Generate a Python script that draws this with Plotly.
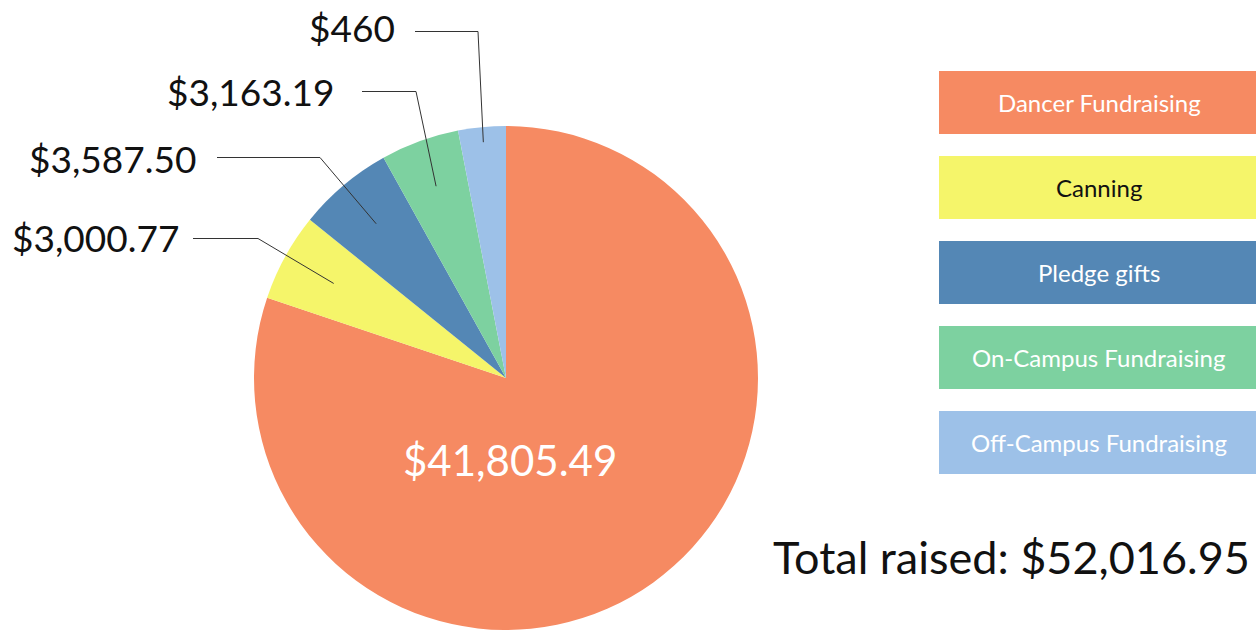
import math
import plotly.graph_objects as go

# ---------------- data ----------------
categories = ["Dancer Fundraising", "Canning", "Pledge gifts",
              "On-Campus Fundraising", "Off-Campus Fundraising"]
# amounts printed on the chart
amounts = [41805.49, 3000.77, 3587.50, 3163.19, 460.00]
# slice sizes as drawn in the picture
slice_values = [41700, 2935, 3180, 2615, 1587]
colors = ["#F68A62", "#F5F56A", "#5487B5", "#7DD1A0", "#9DC1E8"]
legend_text_colors = ["#FFFFFF", "#111111", "#FFFFFF", "#FFFFFF", "#FFFFFF"]

W, H = 1256, 631
FONT = "Lato"

# ---------------- layout positions (pixels) ----------------
CX, CY, R = 506, 378, 252
# outside labels (for slices 1..4)
label_right_x = [181, 198, 336, 397]
label_y = [238, 158, 92, 28]
line_start_x = [193, 217, 362, 415]
line_y = [238.5, 157.5, 91.5, 31.5]
elbow_x = [258, 320, 416, 478]
anchor_frac = [0.78, 0.80, 0.81, 0.94]

legend_left, legend_right = 939, 1262
legend_top0, legend_h, legend_step = 71, 63, 85


def px(x):
    return x / W


def py(y):
    return 1 - y / H


def money(v):
    s = f"${v:,.2f}"
    if s.endswith(".00"):
        s = s[:-3]
    return s


fig = go.Figure()
fig.add_trace(go.Pie(
    labels=categories,
    values=slice_values,
    marker=dict(colors=colors, line=dict(width=0)),
    sort=False,
    direction="clockwise",
    rotation=0,
    textinfo="none",
    hoverinfo="label",
    showlegend=False,
    domain=dict(x=[px(CX - R), px(CX + R)], y=[py(CY + R), py(CY - R)]),
))

shapes = []
annotations = []

total_slices = sum(slice_values)
cum = 0.0
mids = []
for v in slice_values:
    mids.append((cum + v / 2) / total_slices * 360.0)
    cum += v

# leader lines and outside labels
for k in range(1, len(categories)):
    i = k - 1
    th = math.radians(mids[k])
    ax = CX + anchor_frac[i] * R * math.sin(th)
    ay = CY - anchor_frac[i] * R * math.cos(th)
    path = (f"M {px(line_start_x[i])} {py(line_y[i])} "
            f"L {px(elbow_x[i])} {py(line_y[i])} "
            f"L {px(ax)} {py(ay)}")
    shapes.append(dict(type="path", xref="paper", yref="paper", path=path,
                       line=dict(color="#333333", width=1)))
    annotations.append(dict(
        x=px(label_right_x[i]), y=py(label_y[i]), xref="paper", yref="paper",
        text=money(amounts[k]), showarrow=False, xanchor="right", yanchor="middle",
        font=dict(family=FONT, size=37, color="#111111")))

# inside label for the big slice
annotations.append(dict(
    x=px(510), y=py(460), xref="paper", yref="paper",
    text=money(amounts[0]), showarrow=False, xanchor="center", yanchor="middle",
    font=dict(family=FONT, size=42, color="#FFFFFF")))

# legend boxes
for i, cat in enumerate(categories):
    top = legend_top0 + i * legend_step
    shapes.append(dict(type="rect", xref="paper", yref="paper",
                       x0=px(legend_left), x1=px(legend_right),
                       y0=py(top + legend_h), y1=py(top),
                       fillcolor=colors[i], line=dict(width=0), layer="above"))
    annotations.append(dict(
        x=px(1099), y=py(top + legend_h / 2), xref="paper", yref="paper",
        text=cat, showarrow=False, xanchor="center", yanchor="middle",
        font=dict(family=FONT, size=24, color=legend_text_colors[i])))

# total
annotations.append(dict(
    x=px(771), y=py(557), xref="paper", yref="paper",
    text=f"Total raised: {money(sum(amounts))}", showarrow=False,
    xanchor="left", yanchor="middle",
    font=dict(family=FONT, size=45, color="#111111")))

fig.update_layout(
    width=W, height=H,
    margin=dict(l=0, r=0, t=0, b=0),
    paper_bgcolor="white",
    plot_bgcolor="white",
    shapes=shapes,
    annotations=annotations,
    showlegend=False,
)

fig.write_html(
    "out.html",
    config={"displayModeBar": False},
    post_script="document.body.style.margin='0';document.body.style.overflow='hidden';",
)
